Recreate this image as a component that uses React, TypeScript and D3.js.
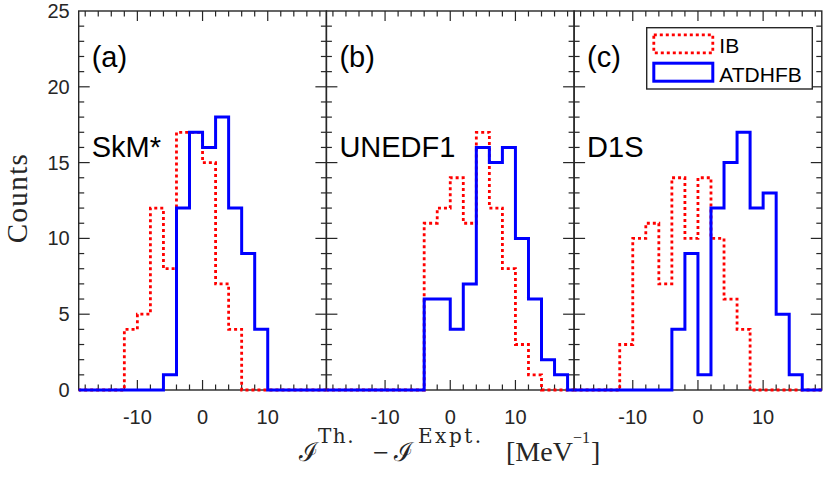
import { useEffect, useRef } from 'react';
import * as d3 from 'd3';

// histogram bins: width 2, left edges from -20 to 18
const binEdges = d3.range(-20, 22, 2);

const panelTags = ['(a)', '(b)', '(c)'];
const models = ['SkM*', 'UNEDF1', 'D1S'];

// counts per bin (bin left edge -20, -18, ..., 18)
const skmIB = [0, 0, 0, 0, 4, 5, 12, 8, 17, 17, 15, 7, 4, 0, 0, 0, 0, 0, 0, 0];
const skmATDHFB = [0, 0, 0, 0, 0, 0, 0, 1, 12, 17, 16, 18, 12, 9, 4, 0, 0, 0, 0, 0];
const unedfIB = [0, 0, 0, 0, 0, 0, 0, 0, 11, 12, 14, 11, 17, 12, 8, 3, 1, 0, 0, 0];
const unedfATDHFB = [0, 0, 0, 0, 0, 0, 0, 0, 6, 6, 4, 7, 16, 15, 16, 10, 6, 2, 1, 0];
const d1sIB = [0, 0, 0, 0, 3, 10, 11, 7, 14, 10, 14, 10, 6, 4, 0, 0, 0, 0, 0, 0];
const d1sATDHFB = [0, 0, 0, 0, 0, 0, 0, 0, 4, 9, 1, 12, 15, 17, 12, 13, 5, 1, 0, 0];

const ibSeries = [skmIB, unedfIB, d1sIB];
const atdhfbSeries = [skmATDHFB, unedfATDHFB, d1sATDHFB];

const xTickLabels = [-10, 0, 10];
const yTickLabels = [0, 5, 10, 15, 20, 25];

const W = 830;
const H = 478;
const axisColor = '#262626';
const sans = '"Liberation Sans", Arial, Helvetica, sans-serif';
const serif = '"Liberation Serif", "Times New Roman", serif';
const wideSerif = '"DejaVu Serif", serif';

export default function App() {
  const svgRef = useRef<SVGSVGElement>(null);

  useEffect(() => {
    if (!svgRef.current) return;
    const svg = d3.select(svgRef.current);
    svg.selectAll('*').remove();

    const left = 78.7;
    const panelW = 247.7;
    const top = 11;
    const bottom = 390;

    const y = d3.scaleLinear().domain([0, 25]).range([bottom, top]);

    models.forEach((model, p) => {
      const x0 = left + p * panelW;
      const x = d3.scaleLinear().domain([-19, 19]).range([x0, x0 + panelW]);
      const g = svg.append('g');

      // box
      g.append('rect')
        .attr('x', x0).attr('y', top)
        .attr('width', panelW).attr('height', bottom - top)
        .attr('fill', 'none')
        .attr('stroke', axisColor)
        .attr('stroke-width', 1.4);

      // x ticks, bottom and top
      d3.range(-18, 20, 2).forEach(v => {
        const len = v % 10 === 0 ? 10 : 5.5;
        g.append('line')
          .attr('x1', x(v)).attr('x2', x(v))
          .attr('y1', bottom).attr('y2', bottom - len)
          .attr('stroke', axisColor).attr('stroke-width', 1.2);
        g.append('line')
          .attr('x1', x(v)).attr('x2', x(v))
          .attr('y1', top).attr('y2', top + len)
          .attr('stroke', axisColor).attr('stroke-width', 1.2);
      });

      // y ticks, left and right
      d3.range(1, 25, 1).forEach(v => {
        const len = v % 5 === 0 ? 11 : 5.5;
        g.append('line')
          .attr('x1', x0).attr('x2', x0 + len)
          .attr('y1', y(v)).attr('y2', y(v))
          .attr('stroke', axisColor).attr('stroke-width', 1.2);
        g.append('line')
          .attr('x1', x0 + panelW).attr('x2', x0 + panelW - len)
          .attr('y1', y(v)).attr('y2', y(v))
          .attr('stroke', axisColor).attr('stroke-width', 1.2);
      });

      // x tick labels
      g.selectAll('text.xt')
        .data(xTickLabels)
        .join('text')
        .attr('x', d => x(d))
        .attr('y', 424)
        .attr('text-anchor', 'middle')
        .attr('font-family', sans)
        .attr('font-size', 20)
        .attr('fill', axisColor)
        .text(d => String(d));

      // clip for histograms
      const clipId = `clip-${p}`;
      svg.append('defs').append('clipPath').attr('id', clipId)
        .append('rect')
        .attr('x', x0).attr('y', top - 10)
        .attr('width', panelW).attr('height', bottom - top + 20);

      const stepLine = d3.line<number>()
        .x((_, i) => x(binEdges[i]))
        .y(d => y(d))
        .curve(d3.curveStepAfter);

      const withEnd = (arr: number[]) => [...arr, arr[arr.length - 1]];

      g.append('path')
        .datum(withEnd(ibSeries[p]))
        .attr('clip-path', `url(#${clipId})`)
        .attr('fill', 'none')
        .attr('stroke', '#ff0000')
        .attr('stroke-width', 2.8)
        .attr('stroke-dasharray', '3 3')
        .attr('d', stepLine);

      g.append('path')
        .datum(withEnd(atdhfbSeries[p]))
        .attr('clip-path', `url(#${clipId})`)
        .attr('fill', 'none')
        .attr('stroke', '#0000ff')
        .attr('stroke-width', 3)
        .attr('d', stepLine);

      // panel labels
      g.append('text')
        .attr('x', x0 + 13).attr('y', 67)
        .attr('font-family', sans).attr('font-size', 29)
        .attr('fill', '#000')
        .text(panelTags[p]);
      g.append('text')
        .attr('x', x0 + 13).attr('y', 157)
        .attr('font-family', sans).attr('font-size', 29)
        .attr('fill', '#000')
        .text(model);
    });

    // y tick labels
    svg.selectAll('text.yt')
      .data(yTickLabels)
      .join('text')
      .attr('x', left - 9)
      .attr('y', d => y(d) + 7)
      .attr('text-anchor', 'end')
      .attr('font-family', sans)
      .attr('font-size', 20)
      .attr('fill', axisColor)
      .text(d => String(d));

    // y label
    svg.append('text')
      .attr('transform', 'translate(26.5,198) rotate(-90)')
      .attr('text-anchor', 'middle')
      .attr('font-family', serif)
      .attr('font-size', 29)
      .attr('letter-spacing', 1.4)
      .attr('fill', axisColor)
      .text('Counts');

    // x label pieces
    const xl = svg.append('g').attr('fill', axisColor);
    const piece = (t: string, px: number, py: number, size: number, family = serif, spacing = 0) =>
      xl.append('text')
        .attr('x', px).attr('y', py)
        .attr('font-family', family)
        .attr('font-size', size)
        .attr('letter-spacing', spacing)
        .text(t);
    piece('\u2110', 299, 461, 26, wideSerif);
    piece('Th.', 318, 442.5, 20, wideSerif, 1.5);
    piece('\u2212', 373, 462, 28);
    piece('\u2110', 394, 461, 26, wideSerif);
    piece('Expt.', 418, 442.5, 20, wideSerif, 2.5);
    piece('[MeV', 506, 461, 28);
    piece('\u22121', 573, 442.5, 16);
    piece(']', 591, 461, 28);

    // legend
    const lg = svg.append('g');
    lg.append('rect')
      .attr('x', 646.7).attr('y', 27.7)
      .attr('width', 165.6).attr('height', 61.3)
      .attr('fill', '#fff')
      .attr('stroke', '#262626')
      .attr('stroke-width', 1.4);
    lg.append('rect')
      .attr('x', 653.8).attr('y', 34.8)
      .attr('width', 59).attr('height', 18)
      .attr('fill', 'none')
      .attr('stroke', '#ff0000')
      .attr('stroke-width', 2.8)
      .attr('stroke-dasharray', '3 3');
    lg.append('rect')
      .attr('x', 653.8).attr('y', 63.2)
      .attr('width', 59).attr('height', 18)
      .attr('fill', 'none')
      .attr('stroke', '#0000ff')
      .attr('stroke-width', 3);
    lg.append('text')
      .attr('x', 719.3).attr('y', 53.3)
      .attr('font-family', sans).attr('font-size', 21)
      .attr('fill', '#000')
      .text('IB');
    lg.append('text')
      .attr('x', 719.3).attr('y', 81.7)
      .attr('font-family', sans).attr('font-size', 21)
      .attr('fill', '#000')
      .text('ATDHFB');
  }, []);

  return (
    <svg
      ref={svgRef}
      width={W}
      height={H}
      style={{ position: 'absolute', left: 0, top: 0, background: '#fff' }}
    />
  );
}
